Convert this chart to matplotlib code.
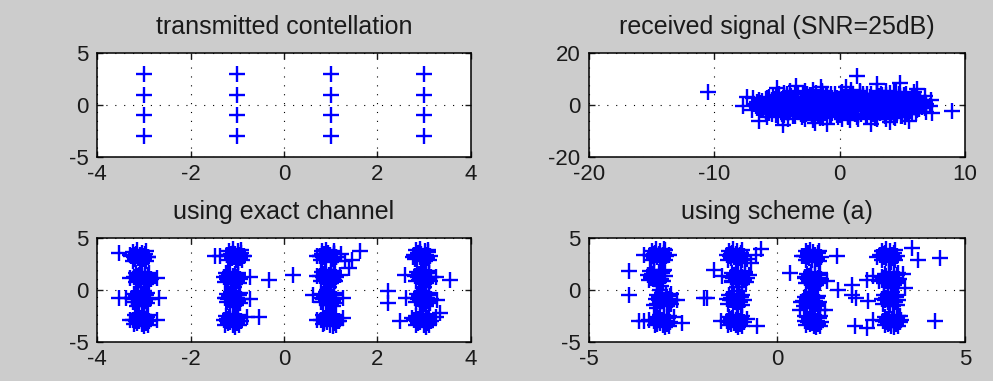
import matplotlib
matplotlib.use("Agg")
import matplotlib.pyplot as plt

# 16-QAM transmitted constellation
tx_i = [-3, -3, -3, -3, -1, -1, -1, -1, 1, 1, 1, 1, 3, 3, 3, 3]
tx_q = [3, 1, -1, -3, 3, 1, -1, -3, 3, 1, -1, -3, 3, 1, -1, -3]

# received signal, SNR = 25 dB
received_pts = [
    (-2.1, 5.6), (0.9, 5.7), (3.7, 5.5),
    (-4.4, 4.8), (-2.9, 4.7), (-1.4, 5.0), (0.1, 4.6), (1.6, 4.9), (3.0, 4.7), (4.5, 4.9),
    (-5.1, 4.0), (-3.6, 4.1), (-2.2, 3.9), (-0.7, 4.2), (0.8, 3.9), (2.2, 4.1), (3.7, 3.8), (5.1, 4.0),
    (-5.6, 3.2), (-4.2, 3.3), (-2.7, 3.1), (-1.3, 3.3), (0.2, 3.2), (1.6, 3.0), (3.1, 3.3), (4.5, 3.1), (5.8, 3.2),
    (-5.9, 2.4), (-4.6, 2.5), (-3.1, 2.3), (-1.6, 2.4), (-0.2, 2.6), (1.3, 2.3), (2.7, 2.5), (4.2, 2.4), (5.6, 2.3), (6.3, 2.5),
    (-6.2, 1.6), (-4.8, 1.7), (-3.4, 1.5), (-1.9, 1.6), (-0.5, 1.4), (1.0, 1.7), (2.4, 1.6), (3.9, 1.5), (5.3, 1.7), (6.4, 1.5),
    (-6.3, 0.8), (-5.0, 0.9), (-3.5, 0.7), (-2.1, 0.8), (-0.6, 1.0), (0.8, 0.7), (2.3, 0.8), (3.7, 0.9), (5.1, 0.7), (6.5, 0.8),
    (-6.4, 0.0), (-4.9, 0.1), (-3.5, -0.1), (-2.0, 0.0), (-0.6, 0.2), (0.9, -0.1), (2.3, 0.1), (3.8, 0.0), (5.2, -0.2), (6.5, 0.1),
    (-6.2, -0.8), (-4.8, -0.7), (-3.3, -0.9), (-1.9, -0.8), (-0.4, -0.6), (1.0, -0.9), (2.5, -0.8), (3.9, -0.7), (5.4, -0.9), (6.6, -0.8),
    (-6.1, -1.6), (-4.7, -1.5), (-3.2, -1.7), (-1.8, -1.6), (-0.3, -1.4), (1.1, -1.7), (2.6, -1.6), (4.0, -1.5), (5.5, -1.7), (6.3, -1.6),
    (-5.9, -2.4), (-4.4, -2.5), (-3.0, -2.3), (-1.5, -2.4), (-0.1, -2.6), (1.4, -2.3), (2.8, -2.5), (4.3, -2.4), (5.7, -2.3),
    (-5.6, -3.2), (-4.1, -3.1), (-2.7, -3.3), (-1.2, -3.2), (0.3, -3.0), (1.7, -3.3), (3.2, -3.2), (4.6, -3.1), (5.8, -3.3),
    (-5.1, -4.0), (-3.7, -4.1), (-2.2, -3.9), (-0.8, -4.0), (0.7, -4.2), (2.1, -3.9), (3.6, -4.0), (5.0, -4.1),
    (-4.5, -4.8), (-3.0, -4.7), (-1.6, -4.9), (-0.1, -4.8), (1.4, -4.6), (2.8, -4.9), (4.3, -4.8), (5.2, -4.7),
    (-2.1, -5.6), (0.8, -5.7), (3.7, -5.5),
    (-10.5, 5.0), (9.0, -2.3), (1.4, 11.2), (-7.4, 3.2), (-7.7, -0.4), (-6.4, -6.0),
    (-4.5, -7.7), (7.2, -0.4), (7.4, -3.1), (6.2, 6.2), (4.8, 8.3), (-3.5, 7.5), (3.0, 8.0),
    (-2.0, -7.0), (2.5, -7.2), (-5.0, 6.5), (5.5, -6.2), (6.8, 3.5),
    (-6.9, 2.6), (-7.0, -1.8), (6.9, -2.6), (7.3, 1.9), (0.5, 7.0), (-1.0, -7.2),
    (4.0, -6.5), (-5.8, -4.8), (5.9, 5.0), (-1.5, 7.0),
]
received_fill = [
    (-4.0, 5.2), (-2.8, 5.2), (-1.4, 5.3), (0.2, 5.1), (1.6, 5.2), (3.0, 5.3), (4.3, 5.1),
    (-4.8, 4.4), (-3.3, 4.4), (-1.9, 4.5), (-0.4, 4.4), (1.1, 4.3), (2.5, 4.4), (4.0, 4.5), (5.3, 4.4),
    (-4.2, 4.2), (-2.6, 4.2), (-1.1, 4.2), (0.5, 4.2), (1.9, 4.2), (3.3, 4.2), (4.7, 4.2),
    (-5.3, 3.6), (-3.9, 3.6), (-2.4, 3.7), (-1.0, 3.6), (0.5, 3.5), (1.9, 3.6), (3.4, 3.7), (4.8, 3.6), (5.9, 3.6),
    (-5.8, 2.8), (-4.9, 2.8), (-3.4, 2.9), (-2.0, 2.8), (-0.6, 2.7), (0.9, 2.8), (2.4, 2.9), (3.8, 2.8), (5.2, 2.8), (6.1, 2.8),
    (-5.2, 2.2), (-3.7, 2.2), (-2.3, 2.2), (-0.8, 2.2), (0.6, 2.2), (2.1, 2.2), (3.5, 2.2), (4.9, 2.2),
    (-6.4, 2.0), (-5.4, 2.0), (-4.0, 2.1), (-2.6, 2.0), (-1.1, 1.9), (0.4, 2.0), (1.8, 2.1), (3.2, 2.0), (4.7, 2.0), (6.0, 2.0),
    (-6.6, 1.2), (-5.6, 1.2), (-4.1, 1.3), (-2.7, 1.2), (-1.3, 1.1), (0.2, 1.2), (1.6, 1.3), (3.1, 1.2), (4.5, 1.2), (5.9, 1.1), (6.8, 1.2),
    (-6.8, 0.4), (-5.7, 0.4), (-4.2, 0.5), (-2.8, 0.4), (-1.3, 0.3), (0.1, 0.4), (1.6, 0.5), (3.0, 0.4), (4.5, 0.4), (5.8, 0.3), (6.9, 0.4),
    (-5.3, 0.2), (-3.8, 0.2), (-2.4, 0.2), (-0.9, 0.2), (0.5, 0.2), (2.0, 0.2), (3.4, 0.2), (4.9, 0.2), (6.0, 0.2),
    (-6.7, -0.4), (-5.5, -0.4), (-4.1, -0.3), (-2.6, -0.4), (-1.2, -0.5), (0.3, -0.4), (1.7, -0.3), (3.2, -0.4), (4.6, -0.4), (6.0, -0.5), (6.9, -0.4),
    (-6.6, -1.2), (-5.4, -1.2), (-4.0, -1.1), (-2.5, -1.2), (-1.1, -1.3), (0.4, -1.2), (1.8, -1.1), (3.3, -1.2), (4.7, -1.2), (6.1, -1.3), (6.8, -1.2),
    (-5.1, -1.8), (-3.6, -1.8), (-2.1, -1.8), (-0.7, -1.8), (0.8, -1.8), (2.2, -1.8), (3.7, -1.8), (5.1, -1.8),
    (-6.3, -2.0), (-5.2, -2.0), (-3.7, -1.9), (-2.3, -2.0), (-0.8, -2.1), (0.6, -2.0), (2.1, -1.9), (3.5, -2.0), (5.0, -2.0), (6.2, -2.1),
    (-5.9, -2.8), (-5.0, -2.8), (-3.5, -2.7), (-2.0, -2.8), (-0.6, -2.9), (0.9, -2.8), (2.3, -2.7), (3.8, -2.8), (5.2, -2.8), (6.1, -2.9),
    (-5.4, -3.6), (-4.6, -3.6), (-3.1, -3.5), (-1.7, -3.6), (-0.2, -3.7), (1.2, -3.6), (2.7, -3.5), (4.1, -3.6), (5.4, -3.6),
    (-4.4, -3.8), (-2.9, -3.8), (-1.5, -3.8), (0.0, -3.8), (1.5, -3.8), (2.9, -3.8), (4.3, -3.8),
    (-4.9, -4.4), (-3.6, -4.4), (-2.2, -4.3), (-0.7, -4.4), (0.7, -4.5), (2.2, -4.4), (3.6, -4.3), (4.9, -4.4),
    (-4.1, -5.2), (-2.8, -5.2), (-1.3, -5.1), (0.2, -5.2), (1.5, -5.3), (3.0, -5.2), (4.4, -5.1),
]

# equalised with the exact channel
exact_pts = [
    (-3.17, 3.5), (-3.04, 3.6), (-2.99, 3.3), (-3.12, 3.1), (-3.06, 2.85), (-3.19, 3.0), (-3.01, 3.05), (-3.09, 3.35),
    (-3.54, 3.55), (-3.29, 3.4), (-2.9, 3.2),
    (-3.1, 1.45), (-2.97, 1.55), (-2.92, 1.2), (-3.07, 1.0), (-3.0, 0.75), (-3.12, 0.9), (-2.94, 0.95), (-3.03, 1.3),
    (-2.72, 1.15), (-3.29, 1.15), (-3.06, 0.3), (-3.0, -0.1),
    (-3.12, -0.5), (-3.02, -0.45), (-2.98, -0.8), (-3.1, -1.0), (-3.04, -1.3), (-3.14, -1.55), (-2.99, -1.4),
    (-3.54, -0.77), (-3.39, -0.8), (-3.25, -0.75), (-2.86, -0.9), (-2.68, -0.77),
    (-3.13, -2.5), (-3.0, -2.45), (-2.95, -2.8), (-3.1, -3.0), (-3.04, -3.3), (-3.15, -3.15), (-2.98, -3.1), (-3.06, -2.7),
    (-2.72, -2.85), (-3.29, -2.85),
    (-1.1, 3.6), (-0.98, 3.7), (-0.95, 3.35), (-1.08, 3.15), (-1.02, 2.9), (-1.12, 3.05), (-0.97, 3.1), (-1.05, 3.45),
    (-1.47, 3.3), (-1.36, 3.3), (-1.22, 3.35), (-0.86, 3.3),
    (-1.17, 1.45), (-1.05, 1.55), (-1.0, 1.2), (-1.14, 0.95), (-1.08, 0.75), (-1.19, 0.9), (-1.02, 1.0), (-1.1, 1.3),
    (-0.33, 0.99), (-0.72, 1.25), (-1.08, 0.3), (-1.12, -0.1),
    (-1.13, -0.5), (-1.03, -0.45), (-1.0, -0.8), (-1.12, -1.0), (-1.06, -1.3), (-1.1, -1.6), (-1.03, -1.2),
    (-1.25, -0.77), (-0.72, -0.9),
    (-1.18, -2.6), (-1.05, -2.55), (-1.0, -2.9), (-1.15, -3.1), (-1.09, -3.35), (-1.2, -3.2), (-1.02, -3.15), (-1.1, -2.8),
    (-0.79, -2.55), (-0.54, -2.55), (-0.93, -3.0),
    (0.2, 1.4),
    (0.82, 3.5), (0.95, 3.6), (1.08, 3.45), (0.88, 3.1), (1.02, 2.95), (1.12, 3.2), (0.76, 3.3), (0.98, 3.35),
    (0.7, 3.25), (1.23, 3.45), (1.63, 3.72), (1.45, 2.92), (1.38, 2.1), (1.3, 2.76),
    (0.88, 1.55), (1.0, 1.6), (1.05, 1.25), (0.9, 1.1), (0.98, 0.8), (0.85, 0.95), (1.08, 1.0), (0.96, 1.4),
    (0.7, 1.3), (1.2, 1.4), (0.97, 0.3), (0.93, -0.05),
    (0.9, -0.5), (1.0, -0.45), (1.03, -0.8), (0.9, -1.0), (0.97, -1.3), (1.05, -1.55), (0.92, -1.4),
    (0.63, -0.45), (1.27, -0.77),
    (0.9, -2.5), (1.03, -2.45), (1.1, -2.8), (0.92, -3.05), (0.99, -3.35), (0.85, -3.15), (1.07, -3.15), (0.97, -2.7),
    (1.27, -2.7), (0.7, -2.85), (1.18, -2.95),
    (2.23, -0.13), (2.23, -1.25),
    (2.92, 3.65), (3.02, 3.7), (3.04, 3.35), (2.9, 3.15), (2.98, 2.95), (3.06, 3.1), (2.94, 3.45), (2.75, 3.2),
    (2.92, 1.55), (3.04, 1.6), (3.06, 1.25), (2.9, 1.1), (2.98, 0.8), (2.88, 0.95), (3.08, 1.0), (2.97, 1.4),
    (2.59, 1.4), (3.55, 0.99), (3.25, 1.25), (3.0, 0.3), (2.96, -0.1),
    (2.93, -0.5), (3.03, -0.45), (3.05, -0.8), (2.92, -1.0), (2.99, -1.3), (3.04, -1.55), (2.95, -1.4),
    (2.62, -0.77), (3.27, -0.93),
    (2.9, -2.6), (3.03, -2.55), (3.08, -2.9), (2.92, -3.1), (2.99, -3.35), (2.87, -3.2), (3.05, -3.15), (2.97, -2.8),
    (2.48, -3.0), (2.73, -2.7), (3.34, -2.2), (3.25, -2.6),
]
exact_fill = [
    (-3.23, 3.65), (-2.96, 3.7), (-3.24, 2.8), (-2.95, 2.75), (-3.27, 3.25), (-2.92, 3.15),
    (-3.19, 3.4), (-2.99, 2.95), (-3.14, 3.8), (-3.03, 2.6), (-3.21, 3.15), (-2.97, 3.5),
    (-3.16, 1.6), (-2.89, 1.65), (-3.17, 0.75), (-2.88, 0.7), (-3.2, 1.2), (-2.85, 1.1),
    (-3.12, 1.35), (-2.92, 0.9), (-3.07, 1.75), (-2.96, 0.55), (-3.14, 1.1), (-2.9, 1.45),
    (-3.21, -0.35), (-2.94, -0.3), (-3.22, -1.2), (-2.93, -1.25), (-3.25, -0.75), (-2.9, -0.85),
    (-3.17, -0.6), (-2.97, -1.05), (-3.12, -0.2), (-3.01, -1.4), (-3.19, -0.85), (-2.95, -0.5),
    (-3.19, -2.45), (-2.92, -2.4), (-3.2, -3.3), (-2.91, -3.35), (-3.23, -2.85), (-2.88, -2.95),
    (-3.15, -2.7), (-2.95, -3.15), (-3.1, -2.3), (-2.99, -3.5), (-3.17, -2.95), (-2.93, -2.6),
    (-1.18, 3.75), (-0.91, 3.8), (-1.19, 2.9), (-0.9, 2.85), (-1.22, 3.35), (-0.87, 3.25),
    (-1.14, 3.5), (-0.94, 3.05), (-1.09, 3.9), (-0.98, 2.7), (-1.16, 3.25), (-0.92, 3.6),
    (-1.25, 1.6), (-0.98, 1.65), (-1.26, 0.75), (-0.97, 0.7), (-1.29, 1.2), (-0.94, 1.1),
    (-1.21, 1.35), (-1.01, 0.9), (-1.16, 1.75), (-1.05, 0.55), (-1.23, 1.1), (-0.99, 1.45),
    (-1.22, -0.35), (-0.95, -0.3), (-1.23, -1.2), (-0.94, -1.25), (-1.26, -0.75), (-0.91, -0.85),
    (-1.18, -0.6), (-0.98, -1.05), (-1.13, -0.2), (-1.02, -1.4), (-1.2, -0.85), (-0.96, -0.5),
    (-1.25, -2.5), (-0.98, -2.45), (-1.26, -3.35), (-0.97, -3.4), (-1.29, -2.9), (-0.94, -3.0),
    (-1.21, -2.75), (-1.01, -3.2), (-1.16, -2.35), (-1.05, -3.55), (-1.23, -3.0), (-0.99, -2.65),
    (0.81, 3.7), (1.08, 3.75), (0.8, 2.85), (1.09, 2.8), (0.77, 3.3), (1.12, 3.2),
    (0.85, 3.45), (1.05, 3.0), (0.9, 3.85), (1.01, 2.65), (0.83, 3.2), (1.07, 3.55),
    (0.81, 1.75), (1.08, 1.8), (0.8, 0.9), (1.09, 0.85), (0.77, 1.35), (1.12, 1.25),
    (0.85, 1.5), (1.05, 1.05), (0.9, 1.9), (1.01, 0.7), (0.83, 1.25), (1.07, 1.6),
    (0.81, -0.35), (1.08, -0.3), (0.8, -1.2), (1.09, -1.25), (0.77, -0.75), (1.12, -0.85),
    (0.85, -0.6), (1.05, -1.05), (0.9, -0.2), (1.01, -1.4), (0.83, -0.85), (1.07, -0.5),
    (0.84, -2.45), (1.11, -2.4), (0.83, -3.3), (1.12, -3.35), (0.8, -2.85), (1.15, -2.95),
    (0.88, -2.7), (1.08, -3.15), (0.93, -2.3), (1.04, -3.5), (0.86, -2.95), (1.1, -2.6),
    (2.82, 3.8), (3.09, 3.85), (2.81, 2.95), (3.1, 2.9), (2.78, 3.4), (3.13, 3.3),
    (2.86, 3.55), (3.06, 3.1), (2.91, 3.95), (3.02, 2.75), (2.84, 3.3), (3.08, 3.65),
    (2.84, 1.75), (3.11, 1.8), (2.83, 0.9), (3.12, 0.85), (2.8, 1.35), (3.15, 1.25),
    (2.88, 1.5), (3.08, 1.05), (2.93, 1.9), (3.04, 0.7), (2.86, 1.25), (3.1, 1.6),
    (2.84, -0.35), (3.11, -0.3), (2.83, -1.2), (3.12, -1.25), (2.8, -0.75), (3.15, -0.85),
    (2.88, -0.6), (3.08, -1.05), (2.93, -0.2), (3.04, -1.4), (2.86, -0.85), (3.1, -0.5),
    (2.83, -2.5), (3.1, -2.45), (2.82, -3.35), (3.11, -3.4), (2.79, -2.9), (3.14, -3.0),
    (2.87, -2.75), (3.07, -3.2), (2.92, -2.35), (3.03, -3.55), (2.85, -3.0), (3.09, -2.65),
]

# equalised using scheme (a)
scheme_pts = [
    (-3.25, 3.6), (-3.1, 3.7), (-3.02, 3.4), (-3.2, 3.15), (-3.12, 2.9), (-3.28, 3.05), (-3.05, 3.1), (-3.15, 3.5),
    (-3.54, 3.4), (-2.87, 3.4), (-3.0, 3.9),
    (-3.94, 1.79), (-3.94, -0.45),
    (-3.28, 1.7), (-3.15, 1.75), (-3.1, 1.35), (-3.25, 1.15), (-3.18, 0.9), (-3.3, 1.05),
    (-3.36, 1.15), (-3.0, 1.9), (-3.09, 0.4), (-3.12, 0.0),
    (-3.08, -0.55), (-2.95, -0.5), (-2.9, -0.9), (-3.05, -1.1), (-3.0, -1.35), (-3.12, -1.2), (-2.88, -1.0),
    (-2.65, -0.93), (-3.27, -1.4), (-3.2, -1.7),
    (-3.15, -2.65), (-3.0, -2.6), (-2.92, -2.95), (-3.1, -3.15), (-3.02, -3.4), (-3.18, -3.25), (-2.95, -3.2), (-3.05, -2.85),
    (-3.67, -3.0), (-3.54, -3.0), (-3.4, -2.85), (-2.52, -3.17), (-2.75, -2.6),
    (-1.2, 3.6), (-1.05, 3.7), (-0.98, 3.4), (-1.15, 3.15), (-1.08, 2.9), (-1.22, 3.05), (-1.0, 3.1), (-1.1, 3.5),
    (-0.57, 3.4), (-0.43, 3.9), (-0.8, 3.0), (-0.7, 2.6),
    (-1.68, 1.96),
    (-1.08, 1.55), (-0.95, 1.6), (-0.92, 1.25), (-1.06, 1.05), (-1.0, 0.8), (-1.1, 0.95),
    (-1.45, 1.31), (-1.19, 0.83), (-0.75, 1.4), (-1.05, 0.3), (-1.0, -0.1),
    (-1.15, -0.6), (-1.02, -0.55), (-0.98, -0.95), (-1.12, -1.15), (-1.05, -1.4), (-1.2, -1.0),
    (-1.94, -0.77), (-1.85, -0.77),
    (-1.2, -2.65), (-1.05, -2.6), (-0.98, -2.95), (-1.15, -3.15), (-1.08, -3.4), (-1.22, -3.25), (-1.0, -3.2), (-1.1, -2.85),
    (-1.5, -3.0), (-0.52, -3.5), (-0.8, -2.8),
    (0.82, 3.55), (0.96, 3.65), (1.02, 3.35), (0.86, 3.1), (0.94, 2.85), (1.05, 3.05),
    (0.66, 3.24), (1.59, 3.24), (0.35, 1.63),
    (0.9, 1.45), (1.02, 1.5), (1.08, 1.15), (0.92, 0.95), (0.98, 0.7), (0.86, 0.85), (1.1, 0.9),
    (1.32, 0.83), (0.75, 1.2), (0.95, 0.2), (0.9, -0.2),
    (0.86, -0.75), (0.98, -0.7), (1.02, -1.1), (0.88, -1.3), (0.95, -1.55),
    (0.61, -1.89), (1.14, -1.89), (1.28, -1.89), (0.65, -1.2),
    (0.9, -2.6), (1.02, -2.55), (1.06, -2.95), (0.92, -3.2), (0.99, -3.45), (0.87, -3.3), (1.05, -3.3), (0.97, -2.8),
    (0.75, -2.5),
    (1.63, 0.03), (1.99, 0.51), (1.99, -0.45), (2.1, -0.8), (2.39, 0.99), (2.56, 1.31), (2.7, 0.85),
    (2.07, -3.49), (2.39, -3.65), (2.56, -2.85), (2.43, -1.09), (2.78, 0.99),
    (2.88, 3.6), (3.0, 3.7), (3.06, 3.35), (2.9, 3.1), (2.97, 2.85), (3.1, 3.05), (2.84, 3.2),
    (3.58, 4.04), (3.76, 2.92), (4.34, 3.08), (2.65, 3.2),
    (3.0, 1.45), (3.1, 1.5), (3.12, 1.15), (2.98, 0.95), (3.05, 0.7), (2.95, 0.85),
    (2.78, 1.2), (3.4, 0.19), (3.35, 1.5), (3.02, 0.2), (3.07, -0.2),
    (2.95, -0.6), (3.06, -0.55), (3.08, -0.95), (2.94, -1.15), (3.0, -1.4), (3.1, -1.2),
    (2.98, -2.6), (3.1, -2.55), (3.12, -2.95), (2.98, -3.2), (3.04, -3.45), (2.94, -3.3), (3.1, -3.3), (3.05, -2.8),
    (3.27, -2.53), (4.2, -3.0), (3.3, -2.9),
]
scheme_fill = [
    (-3.33, 3.75), (-2.98, 3.8), (-3.34, 2.9), (-2.97, 2.85), (-3.37, 3.35), (-2.94, 3.25),
    (-3.28, 3.5), (-3.03, 3.05), (-3.21, 3.9), (-3.08, 2.7), (-3.3, 3.25), (-3.0, 3.6),
    (-3.38, 1.8), (-3.03, 1.85), (-3.39, 0.95), (-3.02, 0.9), (-3.42, 1.4), (-2.99, 1.3),
    (-3.33, 1.55), (-3.08, 1.1), (-3.26, 1.95), (-3.13, 0.75), (-3.35, 1.3), (-3.05, 1.65),
    (-3.18, -0.45), (-2.83, -0.4), (-3.19, -1.3), (-2.82, -1.35), (-3.22, -0.85), (-2.79, -0.95),
    (-3.13, -0.7), (-2.88, -1.15), (-3.06, -0.3), (-2.93, -1.5), (-3.15, -0.95), (-2.85, -0.6),
    (-3.23, -2.55), (-2.88, -2.5), (-3.24, -3.4), (-2.87, -3.45), (-3.27, -2.95), (-2.84, -3.05),
    (-3.18, -2.8), (-2.93, -3.25), (-3.11, -2.4), (-2.98, -3.6), (-3.2, -3.05), (-2.9, -2.7),
    (-1.28, 3.75), (-0.93, 3.8), (-1.29, 2.9), (-0.92, 2.85), (-1.32, 3.35), (-0.89, 3.25),
    (-1.23, 3.5), (-0.98, 3.05), (-1.16, 3.9), (-1.03, 2.7), (-1.25, 3.25), (-0.95, 3.6),
    (-1.19, 1.65), (-0.84, 1.7), (-1.2, 0.8), (-0.83, 0.75), (-1.23, 1.25), (-0.8, 1.15),
    (-1.14, 1.4), (-0.89, 0.95), (-1.07, 1.8), (-0.94, 0.6), (-1.16, 1.15), (-0.86, 1.5),
    (-1.28, -0.5), (-0.93, -0.45), (-1.29, -1.35), (-0.92, -1.4), (-1.32, -0.9), (-0.89, -1.0),
    (-1.23, -0.75), (-0.98, -1.2), (-1.16, -0.35), (-1.03, -1.55), (-1.25, -1.0), (-0.95, -0.65),
    (-1.28, -2.55), (-0.93, -2.5), (-1.29, -3.4), (-0.92, -3.45), (-1.32, -2.95), (-0.89, -3.05),
    (-1.23, -2.8), (-0.98, -3.25), (-1.16, -2.4), (-1.03, -3.6), (-1.25, -3.05), (-0.95, -2.7),
    (0.77, 3.7), (1.12, 3.75), (0.76, 2.85), (1.13, 2.8), (0.73, 3.3), (1.16, 3.2),
    (0.82, 3.45), (1.07, 3.0), (0.89, 3.85), (1.02, 2.65), (0.8, 3.2), (1.1, 3.55),
    (0.79, 1.55), (1.14, 1.6), (0.78, 0.7), (1.15, 0.65), (0.75, 1.15), (1.18, 1.05),
    (0.84, 1.3), (1.09, 0.85), (0.91, 1.7), (1.04, 0.5), (0.82, 1.05), (1.12, 1.4),
    (0.74, -0.65), (1.09, -0.6), (0.73, -1.5), (1.1, -1.55), (0.7, -1.05), (1.13, -1.15),
    (0.79, -0.9), (1.04, -1.35), (0.86, -0.5), (0.99, -1.7), (0.77, -1.15), (1.07, -0.8),
    (0.79, -2.55), (1.14, -2.5), (0.78, -3.4), (1.15, -3.45), (0.75, -2.95), (1.18, -3.05),
    (0.84, -2.8), (1.09, -3.25), (0.91, -2.4), (1.04, -3.6), (0.82, -3.05), (1.12, -2.7),
    (2.79, 3.75), (3.14, 3.8), (2.78, 2.9), (3.15, 2.85), (2.75, 3.35), (3.18, 3.25),
    (2.84, 3.5), (3.09, 3.05), (2.91, 3.9), (3.04, 2.7), (2.82, 3.25), (3.12, 3.6),
    (2.86, 1.55), (3.21, 1.6), (2.85, 0.7), (3.22, 0.65), (2.82, 1.15), (3.25, 1.05),
    (2.91, 1.3), (3.16, 0.85), (2.98, 1.7), (3.11, 0.5), (2.89, 1.05), (3.19, 1.4),
    (2.84, -0.5), (3.19, -0.45), (2.83, -1.35), (3.2, -1.4), (2.8, -0.9), (3.23, -1.0),
    (2.89, -0.75), (3.14, -1.2), (2.96, -0.35), (3.09, -1.55), (2.87, -1.0), (3.17, -0.65),
    (2.87, -2.55), (3.22, -2.5), (2.86, -3.4), (3.23, -3.45), (2.83, -2.95), (3.26, -3.05),
    (2.92, -2.8), (3.17, -3.25), (2.99, -2.4), (3.12, -3.6), (2.9, -3.05), (3.2, -2.7),
]

titles = ["transmitted contellation", "received signal (SNR=25dB)",
          "using exact channel", "using scheme (a)"]
xlims = [(-4, 4), (-20, 10), (-4, 4), (-5, 5)]
ylims = [(-5, 5), (-20, 20), (-5, 5), (-5, 5)]
xticks = [[-4, -2, 0, 2, 4], [-20, -10, 0, 10], [-4, -2, 0, 2, 4], [-5, 0, 5]]
yticks = [[-5, 0, 5], [-20, 0, 20], [-5, 0, 5], [-5, 0, 5]]

plt.rcParams['font.family'] = ['Liberation Sans', 'DejaVu Sans']
plt.rcParams['axes.unicode_minus'] = False

fig = plt.figure(figsize=(9.93, 3.81), dpi=100, facecolor='#cccccc')
rects = [
    [0.0977, 0.5879, 0.3766, 0.273],
    [0.5931, 0.5879, 0.3787, 0.273],
    [0.0977, 0.1024, 0.3766, 0.273],
    [0.5931, 0.1024, 0.3787, 0.273],
]
rx = received_pts + received_fill
ex = exact_pts + exact_fill
sc = scheme_pts + scheme_fill
data = [
    (tx_i, tx_q),
    ([p[0] for p in rx], [p[1] for p in rx]),
    ([p[0] for p in ex], [p[1] for p in ex]),
    ([p[0] for p in sc], [p[1] for p in sc]),
]

for k in range(4):
    ax = fig.add_axes(rects[k])
    ax.set_facecolor('white')
    x, y = data[k]
    ax.plot(x, y, '+', color='#0000ff', markersize=12, mew=1.7, linestyle='none')
    ax.set_xlim(xlims[k])
    ax.set_ylim(ylims[k])
    ax.set_xticks(xticks[k])
    ax.set_yticks(yticks[k])
    ax.grid(True, color='k', linewidth=0.8, dashes=(1, 7))
    ax.tick_params(direction='in', length=4, width=1, top=True, right=True,
                   labelsize=16, colors='#1a1a1a')
    ax.tick_params(axis='x', pad=5)
    ax.tick_params(axis='y', pad=6)
    for s in ax.spines.values():
        s.set_linewidth(1.1)
    ax.set_title(titles[k], fontsize=18, pad=14, color='#1a1a1a')

fig.savefig("out.png", dpi=100, facecolor=fig.get_facecolor())
